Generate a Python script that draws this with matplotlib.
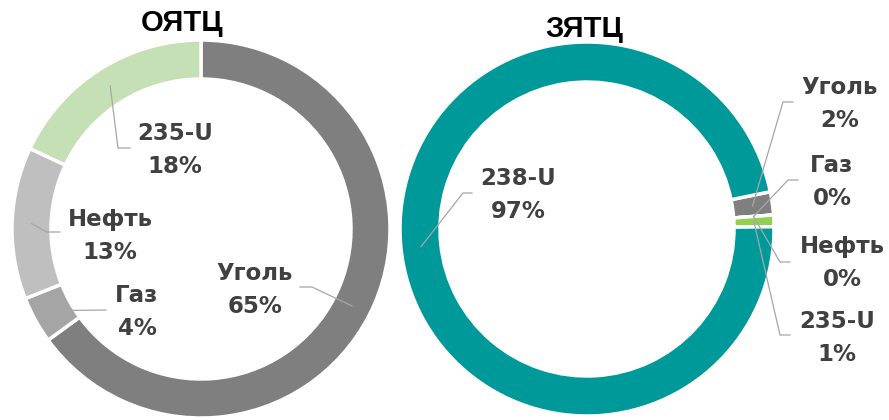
import numpy as np
import matplotlib
matplotlib.use("Agg")
import matplotlib.pyplot as plt

# ОЯТЦ (open cycle) fuel mix
open_labels = ["Уголь", "Газ", "Нефть", "235-U"]
open_values = [65, 4, 13, 18]
open_colors = ["#7f7f7f", "#a5a5a5", "#bfbfbf", "#c5e0b4"]

# ЗЯТЦ (closed cycle) fuel mix
closed_labels = ["Уголь", "Газ", "Нефть", "235-U", "238-U"]
closed_values = [2, 0, 0, 1, 97]
closed_colors = ["#7f7f7f", "#a5a5a5", "#bfbfbf", "#92d050", "#009999"]

W, H = 889, 420
LABEL_COLOR = "#404040"
LINE_COLOR = "#a6a6a6"

fig = plt.figure(figsize=(W / 100, H / 100), dpi=100)
ax = fig.add_axes([0, 0, 1, 1])
ax.set_xlim(0, W)
ax.set_ylim(0, H)
ax.set_aspect("equal")
ax.axis("off")


def donut(center, radius, width, values, colors, start, explode=None):
    wedges, _ = ax.pie(values, colors=colors, center=center, radius=radius,
                       startangle=start, counterclock=False, explode=explode,
                       wedgeprops=dict(width=width, edgecolor="white", linewidth=2.5),
                       normalize=True, frame=True)
    return wedges


def leader(wedge, text_xy, elbow, text):
    # line from the middle of the ring segment through the elbow points
    theta = np.deg2rad((wedge.theta1 + wedge.theta2) / 2)
    r = wedge.r - wedge.width / 2
    cx, cy = wedge.center
    pts = [(cx + r * np.cos(theta), cy + r * np.sin(theta))] + elbow
    xs, ys = zip(*pts)
    ax.plot(xs, ys, color=LINE_COLOR, lw=0.9, zorder=3)
    ax.text(*text_xy, text, ha="center", va="center", fontsize=16.5,
            fontweight="bold", color=LABEL_COLOR, linespacing=1.55,
            family="DejaVu Sans", zorder=4)


# left ring
left = donut((201, 191), 189, 39, open_values, open_colors, 90)
open_text = [(255, 130), (137, 108), (110, 184), (175, 270)]
open_elbow = [[(312, 133), (300, 133)],
              [(106, 110)],
              [(47, 188), (60, 188)],
              [(118, 272), (130, 272)]]
for w, lab, val, xy, el in zip(left, open_labels, open_values, open_text, open_elbow):
    leader(w, xy, el, f"{lab}\n{val}%")

# right ring, small segments pulled out
right = donut((587, 191), 187, 40, closed_values, closed_colors, 11.5,
              explode=[0.05, 0.05, 0.05, 0.05, 0])
closed_text = [(840, 316), (832, 238), (842, 157), (837, 82), (518, 225)]
closed_elbow = [[(783, 318), (793, 318)],
                [(788, 240), (798, 240)],
                [(780, 158), (790, 158)],
                [(780, 85), (790, 85)],
                [(463, 227), (472, 227)]]
for w, lab, val, xy, el in zip(right, closed_labels, closed_values, closed_text, closed_elbow):
    leader(w, xy, el, f"{lab}\n{val}%")

ax.set_xlim(0, W)
ax.set_ylim(0, H)

ax.text(182, H - 23, "ОЯТЦ", ha="center", va="center", fontsize=21,
        fontweight="bold", family="Liberation Sans", color="black")
ax.text(584, H - 29, "ЗЯТЦ", ha="center", va="center", fontsize=21,
        fontweight="bold", family="Liberation Sans", color="black")

fig.savefig("out.png", dpi=100)
